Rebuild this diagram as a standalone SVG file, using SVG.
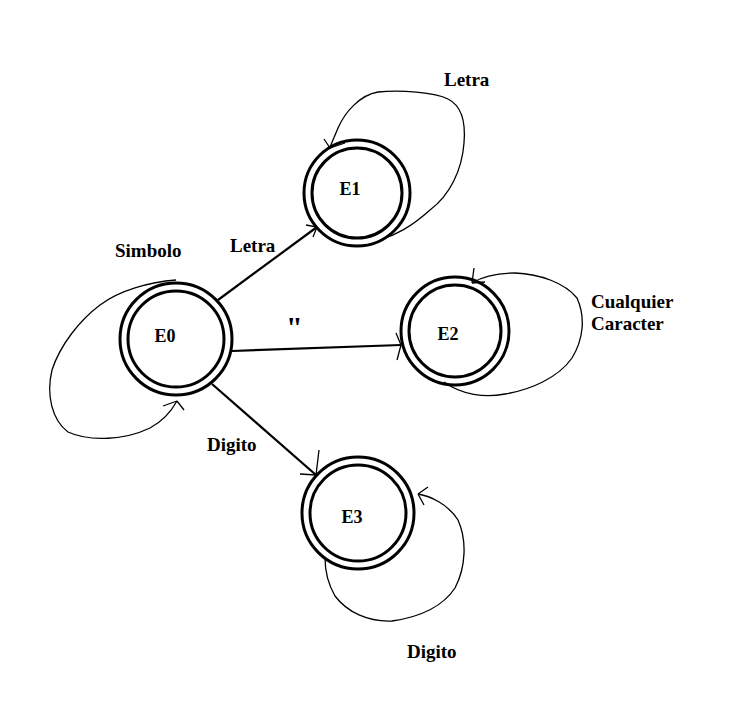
<svg xmlns="http://www.w3.org/2000/svg" width="743" height="724" viewBox="0 0 743 724">
<style>
.ring{fill:none;stroke:#000;stroke-width:3}
.edge{fill:none;stroke:#000;stroke-width:2.2}
.loop{fill:none;stroke:#000;stroke-width:1.3;stroke-linejoin:round}
.head{fill:none;stroke:#000;stroke-width:1.3}
text{font-family:"Liberation Serif","DejaVu Serif",serif;font-weight:bold;font-size:19px;fill:#000}
.nl{font-size:18px}
</style>
<rect width="743" height="724" fill="#fff"/>
<g id="connectors">
<path class="edge" d="M218 300 L317 227"/>
<path class="head" d="M306 225 L317 227 L313 237"/>
<path class="edge" d="M232 351 L401 345"/>
<path class="head" d="M396 333 L401 345 L397 360"/>
<path class="edge" d="M212 384 L316 475"/>
<path class="head" d="M300 474 L316 475 L319 450"/>
<path class="loop" d="M380 240 C395 235 410 228 430 210 C450 195 462 170 464 143 C466 120 460 105 448 99 C435 92 400 90 378 92 C360 95 345 112 338 128 C334 138 331 144 330 148"/>
<path class="head" d="M330 148 L324 139 M330 148 L345 143"/>
<path class="loop" d="M176 280 C150 282 120 290 100 305 C80 320 60 345 52 370 C46 395 52 420 68 432 C90 442 125 440 150 428 C165 420 172 410 177 401"/>
<path class="head" d="M177 401 L163 406 M177 401 L184 410"/>
<path class="loop" d="M472 283 C480 278 495 273 515 273 C540 274 565 283 577 298 C586 318 583 340 572 358 C558 378 530 390 505 394 C485 398 462 395 444 382"/>
<path class="head" d="M472 283 L474 268 M472 283 L485 282"/>
<path class="loop" d="M418 494 C430 496 448 504 458 520 C467 540 466 567 455 588 C443 606 420 617 392 621 C368 622 347 612 335 596 C327 582 325 568 325 558"/>
<path class="head" d="M418 494 L428 487 M418 494 L424 505"/>
</g>
<g id="E0">
<circle class="ring" cx="176" cy="339" r="56"/>
<circle class="ring" cx="176" cy="339" r="48"/>
<text class="nl" x="165" y="342" text-anchor="middle">E0</text>
</g>
<g id="E1">
<circle class="ring" cx="357" cy="193" r="53"/>
<circle class="ring" cx="357" cy="193" r="45"/>
<text class="nl" x="350" y="195" text-anchor="middle">E1</text>
</g>
<g id="E2">
<circle class="ring" cx="455" cy="331" r="54"/>
<circle class="ring" cx="455" cy="331" r="46"/>
<text class="nl" x="448" y="340" text-anchor="middle">E2</text>
</g>
<g id="E3">
<circle class="ring" cx="358" cy="513" r="56"/>
<circle class="ring" cx="358" cy="513" r="48"/>
<text class="nl" x="352" y="523" text-anchor="middle">E3</text>
</g>
<g id="labels">
<text x="444" y="86">Letra</text>
<text x="230" y="252">Letra</text>
<text x="115" y="257">Simbolo</text>
<text x="286" y="337" style="font-size:30px">"</text>
<text x="591" y="308">Cualquier</text>
<text x="591" y="330">Caracter</text>
<text x="207" y="451">Digito</text>
<text x="407" y="658">Digito</text>
</g>
</svg>
